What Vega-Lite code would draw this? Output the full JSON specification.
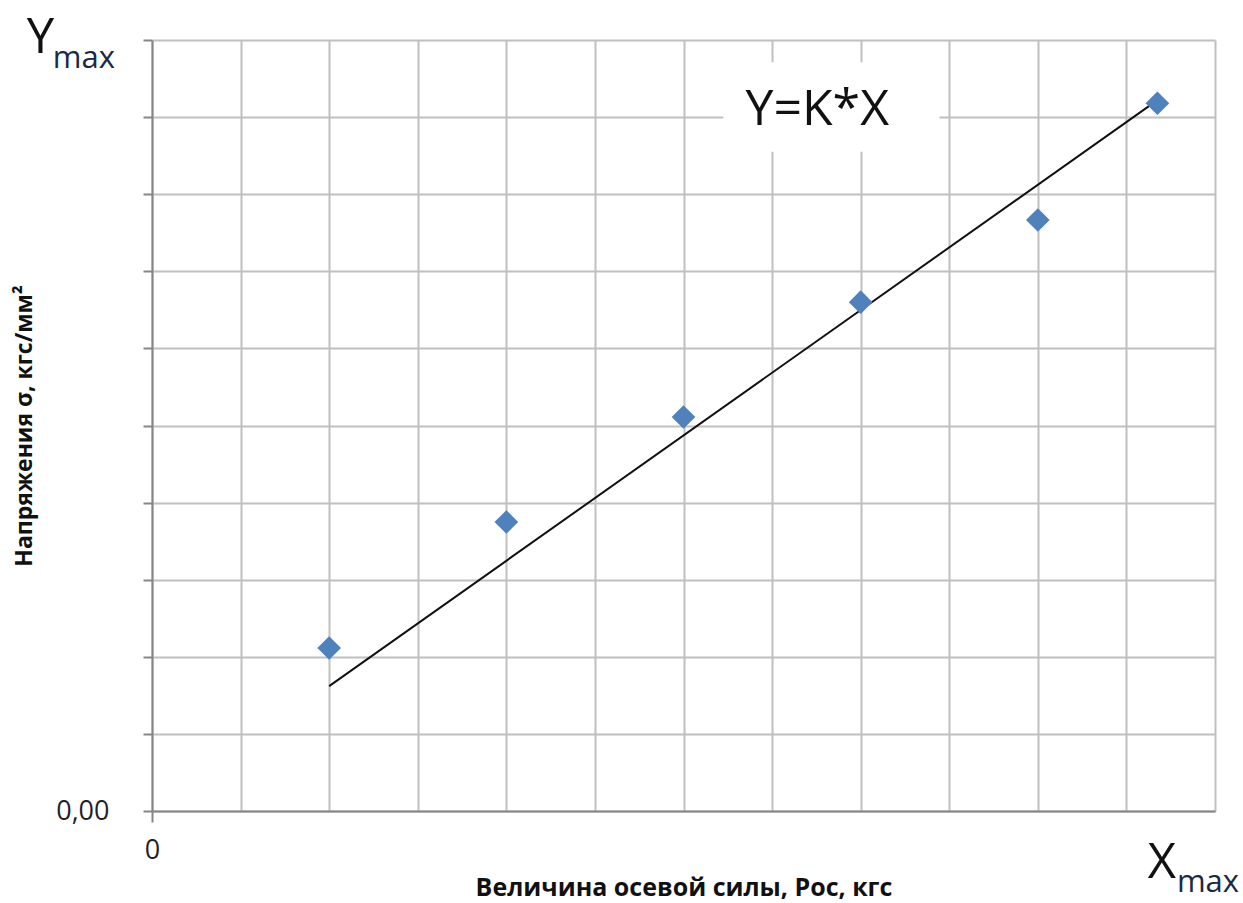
{
  "$schema": "https://vega.github.io/schema/vega-lite/v6.json",
  "autosize": {"type": "none"},
  "width": 1063,
  "height": 771,
  "padding": {"left": 152, "top": 40, "right": 28, "bottom": 92},
  "background": "white",
  "config": {"view": {"stroke": null}, "font": "Open Sans"},
  "datasets": {
    "pts": [
      {"x": 2, "y": 2.114},
      {"x": 4, "y": 3.748},
      {"x": 6, "y": 5.11},
      {"x": 8, "y": 6.6},
      {"x": 10, "y": 7.665},
      {"x": 11.35, "y": 9.18}
    ],
    "fit": [
      {"x": 2, "y": 1.62},
      {"x": 11.35, "y": 9.22}
    ],
    "box": [{"x": 6.45, "x2": 8.89, "y": 9.71, "y2": 8.55}],
    "eq": [{"x": 7.51, "y": 8.9, "t": "Y=K*X"}],
    "big": [
      {"x": -1.414, "y": 9.83, "t": "Y"},
      {"x": 11.24, "y": -0.869, "t": "X"}
    ],
    "sub": [
      {"x": -1.12, "y": 9.64, "t": "max"},
      {"x": 11.57, "y": -1.05, "t": "max"}
    ]
  },
  "layer": [
    {
      "data": {"name": "box"},
      "mark": {"type": "rect", "fill": "white", "stroke": null},
      "encoding": {
        "x": {
          "field": "x", "type": "quantitative",
          "scale": {"domain": [0, 12], "nice": false, "zero": false},
          "axis": {
            "values": [0,1,2,3,4,5,6,7,8,9,10,11,12],
            "grid": true, "gridColor": "#c0c0c0", "gridWidth": 2,
            "domainColor": "#868686", "domainWidth": 2,
            "tickColor": "#868686", "tickWidth": 2, "tickSize": 11,
            "tickOpacity": {"condition": {"test": "datum.value === 0", "value": 1}, "value": 0},
            "labelExpr": "datum.value === 0 ? '0' : ''",
            "labelFlush": false, "labelOverlap": false,
            "labelFontSize": 27, "labelColor": "#1f1f2a", "labelPadding": 15,
            "labelFont": "Open Sans",
            "title": "Величина осевой силы, Рос, кгс",
            "titleFont": "Open Sans", "titleFontSize": 25, "titleFontWeight": "bold",
            "titleColor": "#111111", "titlePadding": 12
          }
        },
        "x2": {"field": "x2"},
        "y": {
          "field": "y", "type": "quantitative",
          "scale": {"domain": [0, 10], "nice": false, "zero": false},
          "axis": {
            "values": [0,1,2,3,4,5,6,7,8,9,10],
            "grid": true, "gridColor": "#c0c0c0", "gridWidth": 2,
            "domainColor": "#868686", "domainWidth": 2,
            "tickColor": "#868686", "tickWidth": 2, "tickSize": 9,
            "labelExpr": "datum.value === 0 ? '0,00' : ''",
            "labelFlush": false, "labelOverlap": false,
            "labelFontSize": 27, "labelColor": "#1f1f2a", "labelPadding": 34,
            "labelFont": "Open Sans",
            "title": "Напряжения σ, кгс/мм²",
            "titleFont": "Open Sans", "titleFontSize": 23, "titleFontWeight": "bold",
            "titleColor": "#111111", "titlePadding": 19
          }
        },
        "y2": {"field": "y2"}
      }
    },
    {
      "data": {"name": "fit"},
      "mark": {"type": "line", "color": "#111111", "strokeWidth": 2},
      "encoding": {
        "x": {"field": "x", "type": "quantitative"},
        "y": {"field": "y", "type": "quantitative"}
      }
    },
    {
      "data": {"name": "pts"},
      "mark": {"type": "point", "shape": "diamond", "filled": true, "color": "#4f81bd", "size": 560, "opacity": 1},
      "encoding": {
        "x": {"field": "x", "type": "quantitative"},
        "y": {"field": "y", "type": "quantitative"}
      }
    },
    {
      "data": {"name": "eq"},
      "mark": {"type": "text", "font": "Open Sans", "fontSize": 50, "align": "center", "baseline": "alphabetic", "color": "#111111"},
      "encoding": {
        "x": {"field": "x", "type": "quantitative"},
        "y": {"field": "y", "type": "quantitative"},
        "text": {"field": "t"}
      }
    },
    {
      "data": {"name": "big"},
      "mark": {"type": "text", "font": "Open Sans", "fontSize": 49, "align": "left", "baseline": "alphabetic", "color": "#111111"},
      "encoding": {
        "x": {"field": "x", "type": "quantitative"},
        "y": {"field": "y", "type": "quantitative"},
        "text": {"field": "t"}
      }
    },
    {
      "data": {"name": "sub"},
      "mark": {"type": "text", "font": "Open Sans", "fontSize": 31, "align": "left", "baseline": "alphabetic", "color": "#1a2a44"},
      "encoding": {
        "x": {"field": "x", "type": "quantitative"},
        "y": {"field": "y", "type": "quantitative"},
        "text": {"field": "t"}
      }
    }
  ]
}
